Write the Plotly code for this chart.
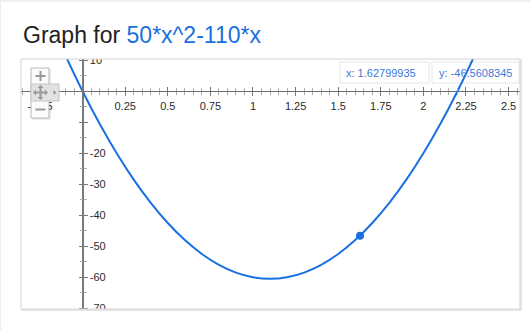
import plotly.graph_objects as go

# ---- data ----
curve_x = [-0.4, -0.3, -0.2, -0.1, 0.0, 0.1, 0.2, 0.3, 0.4, 0.5, 0.6, 0.7, 0.8, 0.9, 1.0,
           1.1, 1.2, 1.3, 1.4, 1.5, 1.6, 1.7, 1.8, 1.9, 2.0, 2.1, 2.2, 2.3, 2.4]
curve_y = [52.0, 37.5, 24.0, 11.5, 0.0, -10.5, -20.0, -28.5, -36.0, -42.5, -48.0, -52.5, -56.0,
           -58.5, -60.0, -60.5, -60.0, -58.5, -56.0, -52.5, -48.0, -42.5, -36.0, -28.5, -20.0,
           -10.5, 0.0, 11.5, 24.0]
point_x = [1.62799935]
point_y = [-46.5608345]

x_tickvals = [-0.25, 0, 0.25, 0.5, 0.75, 1, 1.25, 1.5, 1.75, 2, 2.25, 2.5]
x_ticktext = ["-0.25", "", "0.25", "0.5", "0.75", "1", "1.25", "1.5", "1.75", "2", "2.25", "2.5"]
y_tickvals = [10, 0, -10, -20, -30, -40, -50, -60, -70]
y_ticktext = ["10", "", "", "-20", "-30", "-40", "-50", "-60", "-70"]

title_plain = "Graph for "
title_expr = "50*x^2-110*x"
info_x = "x: 1.62799935"
info_y = "y: -46.5608345"

BLUE = "#1a70e0"
W, H = 530, 330
L, R, T, B = 21, 520, 59, 309
XR = [-0.3615, 2.567]
YR = [-70.23, 10.42]


def px(v):
    return (v - L) / (R - L)


def py(v):
    return (B - v) / (B - T)


def path(points, close=False):
    s = "M " + " L ".join("%.5f,%.5f" % (px(a), py(b)) for a, b in points)
    return s + (" Z" if close else "")


x0pos = (0 - XR[0]) / (XR[1] - XR[0])
y0pos = (0 - YR[0]) / (YR[1] - YR[0])

fig = go.Figure()
fig.add_trace(go.Scatter(x=curve_x, y=curve_y, mode="lines",
                         line=dict(color=BLUE, width=2, shape="spline"),
                         hoverinfo="skip", showlegend=False))
fig.add_trace(go.Scatter(x=point_x, y=point_y, mode="markers",
                         marker=dict(color=BLUE, size=8),
                         hoverinfo="skip", showlegend=False))
# helper trace so the mirrored tick axes render
fig.add_trace(go.Scatter(x=[None], y=[None], xaxis="x2", yaxis="y2",
                         mode="markers", showlegend=False, hoverinfo="skip"))

tickfont = dict(family="Arial, Liberation Sans", size=11, color="#2a2a2a")
TICKC = "#7a7a7a"
MINC = "#b0b0b0"
fig.update_layout(
    width=W, height=H,
    margin=dict(l=L, r=W - R, t=T, b=H - B, pad=0),
    paper_bgcolor="white", plot_bgcolor="white",
    xaxis=dict(range=XR, showgrid=False, zeroline=True, zerolinecolor="#7a7a7a",
               zerolinewidth=2, showline=False, anchor="free", position=y0pos,
               side="bottom", tickvals=x_tickvals, ticktext=x_ticktext,
               ticks="outside", ticklen=4, tickcolor=TICKC, tickwidth=1,
               minor=dict(dtick=0.05, ticks="outside", ticklen=3, tickcolor=MINC,
                          showgrid=False),
               tickfont=tickfont, fixedrange=True),
    xaxis2=dict(range=XR, overlaying="x", anchor="free", position=y0pos, side="top",
                showgrid=False, zeroline=False, showline=False, tickvals=x_tickvals,
                showticklabels=False, ticks="outside", ticklen=4, tickcolor=TICKC,
                minor=dict(dtick=0.05, ticks="outside", ticklen=3, tickcolor=MINC,
                           showgrid=False)),
    yaxis=dict(range=YR, showgrid=False, zeroline=True, zerolinecolor="#6e6e6e",
               zerolinewidth=1, showline=False, anchor="free", position=x0pos,
               side="right", tickvals=y_tickvals, ticktext=y_ticktext,
               ticks="outside", ticklen=4, tickcolor=TICKC,
               minor=dict(dtick=5, ticks="outside", ticklen=3, tickcolor=MINC,
                          showgrid=False),
               tickfont=tickfont, fixedrange=True),
    yaxis2=dict(range=YR, overlaying="y", anchor="free", position=x0pos, side="left",
                showgrid=False, zeroline=False, showline=False, tickvals=y_tickvals,
                showticklabels=False, ticks="outside", ticklen=4, tickcolor=TICKC,
                minor=dict(dtick=5, ticks="outside", ticklen=3, tickcolor=MINC,
                           showgrid=False)),
    showlegend=False,
)

shapes = []
# info boxes (under the curve, as in the reference)
for x0b, x1b in [(340, 429), (432, 519)]:
    shapes.append(dict(type="rect", xref="paper", yref="paper", x0=px(x0b), x1=px(x1b),
                       y0=py(83), y1=py(62), fillcolor="white",
                       line=dict(color="#e6e6e6", width=1), layer="below"))
# white masks to clip tick labels outside the frame
shapes.append(dict(type="rect", xref="paper", yref="paper", x0=px(L), x1=px(R),
                   y0=py(T), y1=py(T - 12), fillcolor="white", line=dict(width=0), layer="above"))
shapes.append(dict(type="rect", xref="paper", yref="paper", x0=px(L), x1=px(R),
                   y0=py(B + 14), y1=py(B), fillcolor="white", line=dict(width=0), layer="above"))
# frame
shapes.append(dict(type="rect", xref="paper", yref="paper", x0=0, x1=1, y0=0, y1=1,
                   line=dict(color="#d4d4d4", width=1), layer="above"))
shapes.append(dict(type="line", xref="paper", yref="paper", x0=px(R + 1), x1=px(R + 1),
                   y0=py(B + 1), y1=py(T), line=dict(color="#e2e2e2", width=2), layer="above"))
shapes.append(dict(type="line", xref="paper", yref="paper", x0=px(L), x1=px(R + 1),
                   y0=py(B + 1), y1=py(B + 1), line=dict(color="#e2e2e2", width=2), layer="above"))
# page edges
shapes.append(dict(type="rect", xref="paper", yref="paper", x0=px(0), x1=px(W),
                   y0=py(2), y1=py(0), fillcolor="#efefef", line=dict(width=0), layer="above"))
shapes.append(dict(type="line", xref="paper", yref="paper", x0=px(0.5), x1=px(0.5),
                   y0=py(W), y1=py(0), line=dict(color="#ececec", width=1), layer="above"))
# zoom control widget
shapes.append(dict(type="rect", xref="paper", yref="paper", x0=px(32), x1=px(51),
                   y0=py(120), y1=py(69), fillcolor="rgba(0,0,0,0.07)",
                   line=dict(width=0), layer="above"))
shapes.append(dict(type="rect", xref="paper", yref="paper", x0=px(31), x1=px(49),
                   y0=py(118), y1=py(68), fillcolor="#fbfbfb",
                   line=dict(color="#b8b8b8", width=1), layer="above"))
shapes.append(dict(type="rect", xref="paper", yref="paper", x0=px(31), x1=px(59),
                   y0=py(101), y1=py(84), fillcolor="#e2e2e2",
                   line=dict(color="#c4c4c4", width=1), layer="above"))
GL = dict(color="#999999", width=2)
# plus
shapes.append(dict(type="path", xref="paper", yref="paper", layer="above", line=GL,
                   path=path([(35.5, 76), (45.5, 76)])))
shapes.append(dict(type="path", xref="paper", yref="paper", layer="above", line=GL,
                   path=path([(40.5, 71), (40.5, 81)])))
# minus
shapes.append(dict(type="path", xref="paper", yref="paper", layer="above", line=GL,
                   path=path([(35.5, 109.5), (45.5, 109.5)])))
# move icon
shapes.append(dict(type="path", xref="paper", yref="paper", layer="above", line=GL,
                   path=path([(34.5, 92.5), (46.5, 92.5)])))
shapes.append(dict(type="path", xref="paper", yref="paper", layer="above", line=GL,
                   path=path([(40.5, 86.5), (40.5, 98.5)])))
for tri in ([(33, 92.5), (36, 89.5), (36, 95.5)],
            [(48, 92.5), (45, 89.5), (45, 95.5)],
            [(40.5, 85), (37.5, 88), (43.5, 88)],
            [(40.5, 100), (37.5, 97), (43.5, 97)],
            [(56.5, 92.5), (53.5, 90), (53.5, 95)]):
    shapes.append(dict(type="path", xref="paper", yref="paper", layer="above",
                       fillcolor="#999999", line=dict(width=0), path=path(tri, close=True)))
fig.update_layout(shapes=shapes)

ann = []
ann.append(dict(xref="paper", yref="paper", x=px(21), y=py(35), xanchor="left", yanchor="middle",
                text=title_plain + "<span style='color:%s'>%s</span>" % (BLUE, title_expr),
                showarrow=False, font=dict(family="Arial, Liberation Sans", size=23, color="#222")))
ann.append(dict(xref="paper", yref="paper", x=px(344), y=py(72.5), xanchor="left", yanchor="middle",
                text=info_x, showarrow=False,
                font=dict(family="Arial, Liberation Sans", size=11, color="#3b78d8")))
ann.append(dict(xref="paper", yref="paper", x=px(437), y=py(72.5), xanchor="left", yanchor="middle",
                text=info_y, showarrow=False,
                font=dict(family="Arial, Liberation Sans", size=11, color="#3b78d8")))
fig.update_layout(annotations=ann)

fig.write_html("out.html", config={"displayModeBar": False})
